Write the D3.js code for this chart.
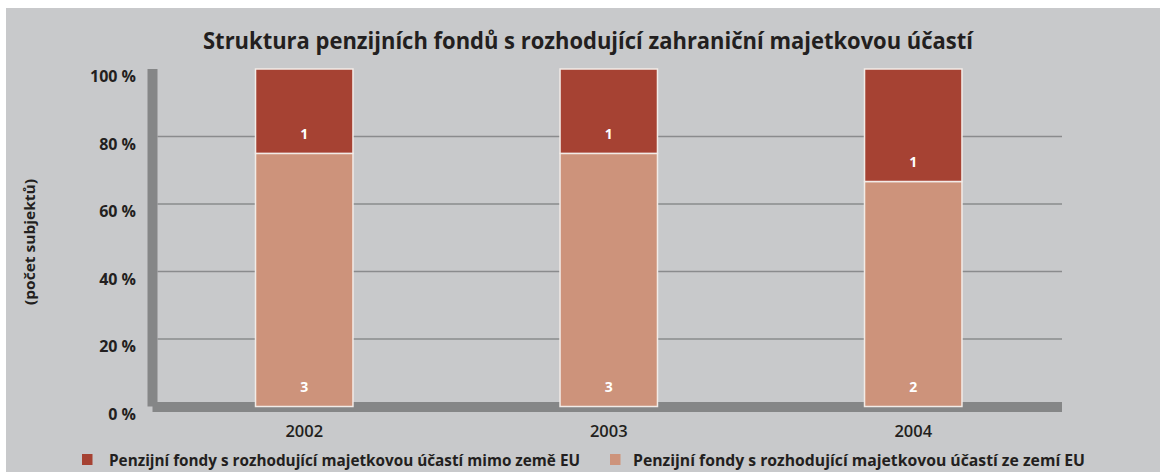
<!DOCTYPE html>
<html><head><meta charset="utf-8">
<script src="https://cdn.jsdelivr.net/npm/d3@7"></script>
<style>body{margin:0;background:#fff} svg{display:block}</style>
</head><body><svg id="c" width="1160" height="472"></svg>
<script>
const titleText = "Struktura penzijních fondů s rozhodující zahraniční majetkovou účastí";
const yAxisTitle = "(počet subjektů)";
const years = ["2002", "2003", "2004"];
const seriesNames = [
  "Penzijní fondy s rozhodující majetkovou účastí ze zemí EU",
  "Penzijní fondy s rozhodující majetkovou účastí mimo země EU"
];
const euCounts = [3, 3, 2];
const nonEuCounts = [1, 1, 1];
const yTicks = [0, 20, 40, 60, 80, 100];
const yTickLabels = ["0 %", "20 %", "40 %", "60 %", "80 %", "100 %"];
const colors = ["#cd937b", "#a64233"];

const svg = d3.select("#c");
const font = "'Open Sans', 'Noto Sans', sans-serif";
const ink = "#231f20";

svg.append("rect").attr("x", 6).attr("y", 8).attr("width", 1154).attr("height", 464).attr("fill", "#c8c9cb");

const y = d3.scaleLinear().domain([0, 100]).range([406.5, 69]);
const x = d3.scaleBand().domain(years).range([152, 1065.5]).paddingInner(0.68).paddingOuter(0.34);

const plotLeft = 157.5, plotRight = 1062;

// gridlines
svg.append("g").selectAll("line").data(yTicks.filter(t => t > 0 && t < 100)).join("line")
  .attr("x1", plotLeft).attr("x2", plotRight)
  .attr("y1", d => y(d)).attr("y2", d => y(d))
  .attr("stroke", "#8a8b8d").attr("stroke-width", 1.6);

// wall and floor (3D-like axis)
svg.append("rect").attr("x", 147.5).attr("y", y(100)).attr("width", 10).attr("height", y(0) - y(100)).attr("fill", "#858687");
svg.append("rect").attr("x", 152.5).attr("y", y(0) - 4.5).attr("width", plotRight - 152.5).attr("height", 10).attr("fill", "#858687");

// stacked data
const rows = years.map((yr, i) => ({year: yr, eu: euCounts[i], non: nonEuCounts[i]}));
const stack = d3.stack().keys(["eu", "non"]).offset(d3.stackOffsetExpand);
const layers = stack(rows);

const g = svg.append("g");
layers.forEach((layer, li) => {
  g.selectAll(null).data(layer).join("rect")
    .attr("x", d => x(d.data.year))
    .attr("y", d => y(d[1] * 100))
    .attr("width", x.bandwidth())
    .attr("height", d => y(d[0] * 100) - y(d[1] * 100))
    .attr("fill", colors[li])
    .attr("stroke", "#f2ebe7").attr("stroke-width", 1.5);
});
layers.forEach((layer, li) => {
  g.selectAll(null).data(layer).join("text")
    .attr("x", d => x(d.data.year) + x.bandwidth() / 2)
    .attr("y", d => y(d[0] * 100) - 20)
    .attr("text-anchor", "middle").attr("dominant-baseline", "central")
    .attr("fill", "#fff").attr("font-family", font).attr("font-weight", 700).attr("font-size", 14)
    .text(d => d.data[layer.key]);
});

// y tick labels
svg.append("g").selectAll("text").data(yTicks).join("text")
  .attr("x", 136).attr("y", d => y(d) + 7)
  .attr("text-anchor", "end").attr("dominant-baseline", "central")
  .attr("fill", ink).attr("font-family", font).attr("font-weight", 700).attr("font-size", 16)
  .text((d, i) => yTickLabels[i]);

// x labels
svg.append("g").selectAll("text").data(years).join("text")
  .attr("x", d => x(d) + x.bandwidth() / 2).attr("y", 430)
  .attr("text-anchor", "middle").attr("dominant-baseline", "central")
  .attr("fill", ink).attr("font-family", font).attr("font-weight", 600).attr("font-size", 16.5)
  .text(d => d);

// title
svg.append("text").attr("x", 588).attr("y", 49).attr("text-anchor", "middle")
  .attr("fill", ink).attr("font-family", font).attr("font-weight", 700).attr("font-size", 24)
  .attr("textLength", 770).attr("lengthAdjust", "spacingAndGlyphs")
  .text(titleText);

// y axis title
svg.append("text").attr("transform", "translate(29,242) rotate(-90)")
  .attr("text-anchor", "middle").attr("dominant-baseline", "central")
  .attr("fill", ink).attr("font-family", font).attr("font-weight", 700).attr("font-size", 15)
  .attr("textLength", 126).attr("lengthAdjust", "spacingAndGlyphs")
  .text(yAxisTitle);

// legend
const legend = [
  {name: seriesNames[1], color: colors[1], sx: 82, tx: 109, tl: 471},
  {name: seriesNames[0], color: colors[0], sx: 610, tx: 633, tl: 452}
];
const lg = svg.append("g");
lg.selectAll("rect").data(legend).join("rect")
  .attr("x", d => d.sx).attr("y", 454).attr("width", 10.5).attr("height", 11).attr("fill", d => d.color);
lg.selectAll("text").data(legend).join("text")
  .attr("x", d => d.tx).attr("y", 466)
  .attr("fill", ink).attr("font-family", font).attr("font-weight", 700).attr("font-size", 16)
  .attr("textLength", d => d.tl).attr("lengthAdjust", "spacingAndGlyphs")
  .text(d => d.name);
</script>
</body></html>
